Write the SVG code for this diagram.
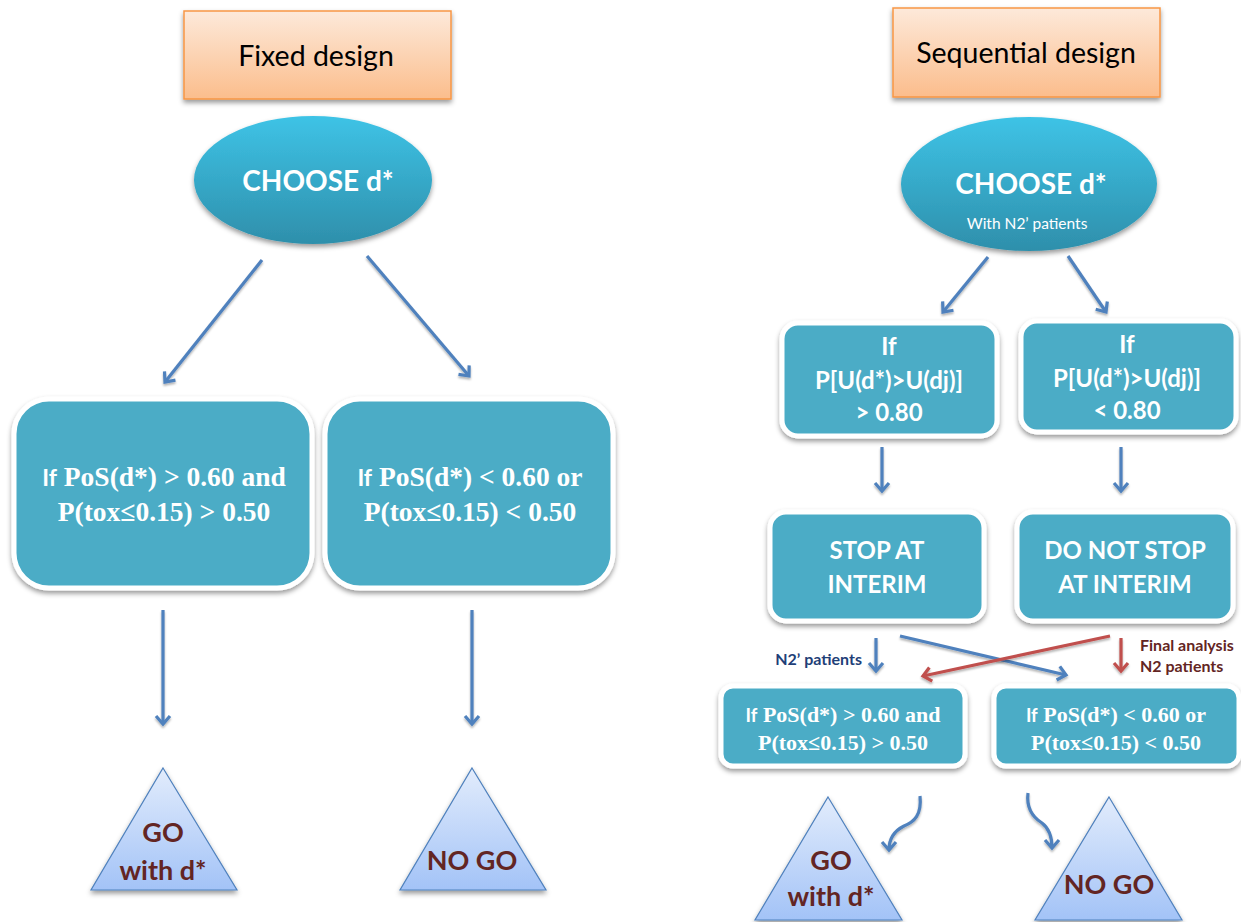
<svg xmlns="http://www.w3.org/2000/svg" width="1241" height="922" viewBox="0 0 1241 922">
<defs>
  <linearGradient id="gOrange" x1="0" y1="0" x2="0" y2="1">
    <stop offset="0" stop-color="#fde9da"/>
    <stop offset="1" stop-color="#fbbd8c"/>
  </linearGradient>
  <linearGradient id="gEll" x1="0" y1="0" x2="0" y2="1">
    <stop offset="0" stop-color="#3ec3e6"/>
    <stop offset="1" stop-color="#2e8fab"/>
  </linearGradient>
  <linearGradient id="gTri" x1="0" y1="0" x2="0" y2="1">
    <stop offset="0" stop-color="#e2ecfc"/>
    <stop offset="1" stop-color="#a3c3f7"/>
  </linearGradient>
  <filter id="shadow" x="-20%" y="-20%" width="140%" height="150%">
    <feDropShadow dx="0" dy="3" stdDeviation="2.5" flood-color="#000" flood-opacity="0.4"/>
  </filter>
  <filter id="lshadow" filterUnits="userSpaceOnUse" x="0" y="0" width="1241" height="922">
    <feDropShadow dx="0" dy="2" stdDeviation="1.2" flood-color="#000" flood-opacity="0.3"/>
  </filter>
  <marker id="ab" markerUnits="userSpaceOnUse" markerWidth="20" markerHeight="20" refX="10" refY="10" orient="auto" overflow="visible">
    <path d="M2,3 L10,10 L2,17" fill="none" stroke="#4f81bd" stroke-width="3.2" stroke-linejoin="miter"/>
  </marker>
  <marker id="ar" markerUnits="userSpaceOnUse" markerWidth="20" markerHeight="20" refX="10" refY="10" orient="auto" overflow="visible">
    <path d="M2,3 L10,10 L2,17" fill="none" stroke="#c0504d" stroke-width="3.2" stroke-linejoin="miter"/>
  </marker>
  <style>
    .title{fill:url(#gOrange);stroke:#f79646;stroke-width:1.5;filter:url(#shadow)}
    .ttext{font-family:Lato,"Liberation Sans",sans-serif;font-size:28.5px;fill:#000;text-anchor:middle}
    .ell{fill:url(#gEll);filter:url(#shadow)}
    .box{fill:#4bacc6;stroke:#fff;stroke-width:5;filter:url(#shadow)}
    .sans{font-family:Lato,"Liberation Sans",sans-serif;font-weight:bold;fill:#fff;text-anchor:middle}
    .serif{font-family:"Liberation Serif","Times New Roman",serif;font-weight:bold;fill:#fff;text-anchor:middle}
    .tri{fill:url(#gTri);stroke:#4f81bd;stroke-width:1.2;filter:url(#shadow)}
    .tritext{font-family:Lato,"Liberation Sans",sans-serif;font-weight:bold;fill:#632523;text-anchor:middle;font-size:27px}
    .conn{fill:none;stroke:#4f81bd;stroke-width:3.2;marker-end:url(#ab);filter:url(#lshadow)}
    .connr{fill:none;stroke:#c0504d;stroke-width:3.2;marker-end:url(#ar);filter:url(#lshadow)}
    .lblb{font-family:Lato,"Liberation Sans",sans-serif;font-weight:bold;font-size:16px;fill:#1f3f78}
    .lblr{font-family:Lato,"Liberation Sans",sans-serif;font-weight:bold;font-size:16px;fill:#632523}
  </style>
</defs>
<rect width="1241" height="922" fill="#fff"/>

<!-- LEFT: Fixed design -->
<g id="fixed-title">
  <rect class="title" x="184" y="11" width="267" height="88"/>
  <text class="ttext" x="316" y="66">Fixed design</text>
</g>
<g id="fixed-choose">
  <ellipse class="ell" cx="313" cy="180" rx="119" ry="64"/>
  <text class="sans" x="318" y="191" font-size="28">CHOOSE d*</text>
</g>
<g id="fixed-go-cond">
  <rect class="box" x="14" y="399" width="298" height="189" rx="35"/>
  <text class="serif" x="164" y="486" font-size="27.5"><tspan font-family="Lato,'Liberation Sans',sans-serif" font-size="23">If</tspan> PoS(d*) &gt; 0.60 and</text>
  <text class="serif" x="164" y="521" font-size="27.5">P(tox≤0.15) &gt; 0.50</text>
</g>
<g id="fixed-nogo-cond">
  <rect class="box" x="325" y="399" width="288" height="189" rx="35"/>
  <text class="serif" x="470" y="486" font-size="27.5"><tspan font-family="Lato,'Liberation Sans',sans-serif" font-size="23">If</tspan> PoS(d*) &lt; 0.60 or</text>
  <text class="serif" x="470" y="521" font-size="27.5">P(tox≤0.15) &lt; 0.50</text>
</g>
<g id="fixed-go">
  <polygon class="tri" points="163,768 237,890 91,890"/>
  <text class="tritext" x="163" y="842">GO</text>
  <text class="tritext" x="163" y="880">with d*</text>
</g>
<g id="fixed-nogo">
  <polygon class="tri" points="472,768 546,890 400,890"/>
  <text class="tritext" x="472" y="870">NO GO</text>
</g>

<!-- RIGHT: Sequential design -->
<g id="seq-title">
  <rect class="title" x="893" y="8" width="267" height="89"/>
  <text class="ttext" x="1026" y="63" font-size="29.5">Sequential design</text>
</g>
<g id="seq-choose">
  <ellipse class="ell" cx="1029" cy="184" rx="128" ry="67"/>
  <text class="sans" x="1031" y="194" font-size="28">CHOOSE d*</text>
  <text x="1027" y="229" font-family="Lato,'Liberation Sans',sans-serif" font-size="15.5" fill="#fff" text-anchor="middle">With N2’ patients</text>
</g>
<g id="seq-high">
  <rect class="box" x="782" y="323" width="215" height="113" rx="16"/>
  <text class="sans" x="889" y="355" font-size="24">If</text>
  <text class="sans" x="889" y="389" font-size="24">P[U(d*)&gt;U(dj)]</text>
  <text class="sans" x="889" y="421" font-size="24">&gt; 0.80</text>
</g>
<g id="seq-low">
  <rect class="box" x="1021" y="321" width="215" height="111" rx="16"/>
  <text class="sans" x="1127" y="353" font-size="24">If</text>
  <text class="sans" x="1127" y="387" font-size="24">P[U(d*)&gt;U(dj)]</text>
  <text class="sans" x="1127" y="419" font-size="24">&lt; 0.80</text>
</g>
<g id="seq-stop">
  <rect class="box" x="770" y="512" width="214" height="109" rx="16"/>
  <text class="sans" x="877" y="559" font-size="24">STOP AT</text>
  <text class="sans" x="877" y="593" font-size="24">INTERIM</text>
</g>
<g id="seq-nostop">
  <rect class="box" x="1017" y="512" width="216" height="109" rx="16"/>
  <text class="sans" x="1125" y="559" font-size="24">DO NOT STOP</text>
  <text class="sans" x="1125" y="593" font-size="24">AT INTERIM</text>
</g>
<g id="seq-go-cond">
  <rect class="box" x="721" y="686" width="244" height="80" rx="12"/>
  <text class="serif" x="843" y="722" font-size="22"><tspan font-family="Lato,'Liberation Sans',sans-serif" font-size="18.5">If</tspan> PoS(d*) &gt; 0.60 and</text>
  <text class="serif" x="843" y="750" font-size="22">P(tox≤0.15) &gt; 0.50</text>
</g>
<g id="seq-nogo-cond">
  <rect class="box" x="994" y="686" width="245" height="80" rx="12"/>
  <text class="serif" x="1116" y="722" font-size="22"><tspan font-family="Lato,'Liberation Sans',sans-serif" font-size="18.5">If</tspan> PoS(d*) &lt; 0.60 or</text>
  <text class="serif" x="1116" y="750" font-size="22">P(tox≤0.15) &lt; 0.50</text>
</g>
<g id="seq-go">
  <polygon class="tri" points="828,797 902,920 755,920"/>
  <text class="tritext" x="831" y="870" font-size="28">GO</text>
  <text class="tritext" x="831" y="906" font-size="28">with d*</text>
</g>
<g id="seq-nogo">
  <polygon class="tri" points="1109,797 1182,920 1035,920"/>
  <text class="tritext" x="1109" y="894" font-size="28">NO GO</text>
</g>

<!-- Connector labels -->
<g id="labels">
  <text class="lblb" x="862" y="665" text-anchor="end">N2’ patients</text>
  <text class="lblr" x="1140" y="651">Final analysis</text>
  <text class="lblr" x="1140" y="672">N2 patients</text>
</g>

<!-- Connectors -->
<g id="connectors">
  <line class="conn" x1="262" y1="260" x2="165" y2="382"/>
  <line class="conn" x1="367" y1="256" x2="469" y2="376"/>
  <line class="conn" x1="163" y1="610" x2="163" y2="724"/>
  <line class="conn" x1="472" y1="610" x2="472" y2="724"/>

  <line class="conn" x1="988" y1="257" x2="943" y2="312"/>
  <line class="conn" x1="1068" y1="256" x2="1106" y2="312"/>
  <line class="conn" x1="882" y1="447" x2="882" y2="491"/>
  <line class="conn" x1="1121" y1="447" x2="1121" y2="491"/>
  <line class="conn" x1="876" y1="638" x2="876" y2="671"/>
  <line class="connr" x1="1121" y1="638" x2="1121" y2="671"/>
  <line class="conn" x1="900" y1="636" x2="1066" y2="675"/>
  <line class="connr" x1="1110" y1="636" x2="923" y2="676"/>
  <path class="conn" d="M920,796 C922,815 914,822 904,826 C894,831 889,839 889,850"/>
  <path class="conn" d="M1028,793 C1026,810 1034,818 1042,823 C1050,829 1052,838 1052,848"/>
</g>
</svg>
